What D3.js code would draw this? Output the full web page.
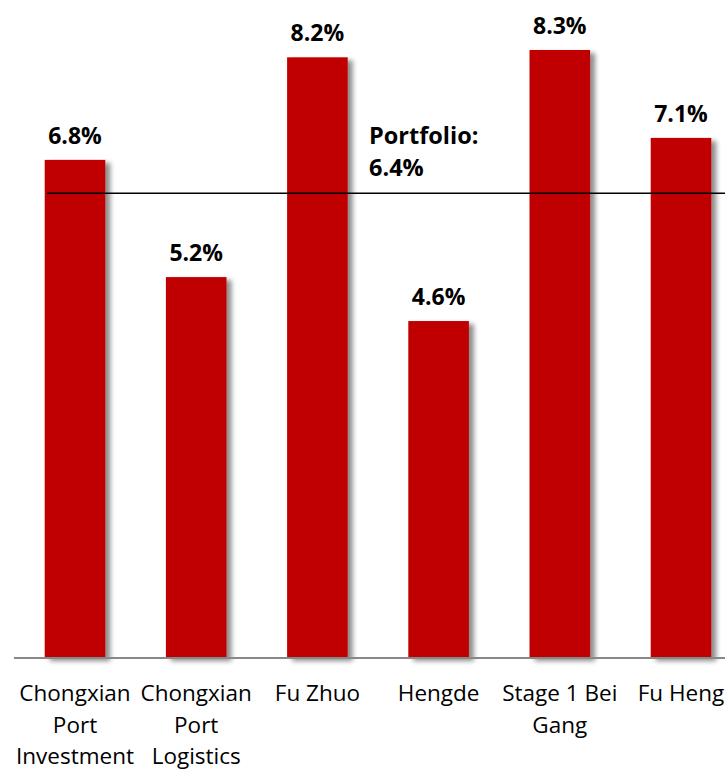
<!DOCTYPE html>
<html>
<head>
<meta charset="utf-8">
<script src="https://cdn.jsdelivr.net/npm/d3@7"></script>
<style>
  body { margin: 0; background: #fff; }
  text { font-family: "Open Sans", "Noto Sans", sans-serif; fill: #000; }
</style>
</head>
<body>
<svg id="chart" width="725" height="770"></svg>
<script>
// data
var categories = ["Chongxian Port Investment", "Chongxian Port Logistics", "Fu Zhuo", "Hengde", "Stage 1 Bei Gang", "Fu Heng"];
var labelLines = [["Chongxian", "Port", "Investment"], ["Chongxian", "Port", "Logistics"], ["Fu Zhuo"], ["Hengde"], ["Stage 1 Bei", "Gang"], ["Fu Heng"]];
var yields = [6.8, 5.2, 8.2, 4.6, 8.3, 7.1];
var portfolio = 6.4;

var svg = d3.select("#chart");
var width = +svg.attr("width");
var baseY = 658;

var x = d3.scaleBand().domain(categories).range([14.4, 741.6]).paddingInner(0.5).paddingOuter(0.25);
var y = d3.scaleLinear().domain([0, 8.3]).range([baseY, 50]);

// soft shadow to the right of each bar
var defs = svg.append("defs");
var f = defs.append("filter").attr("id", "shadow").attr("x", "-20%").attr("y", "-5%").attr("width", "150%").attr("height", "115%");
f.append("feGaussianBlur").attr("in", "SourceAlpha").attr("stdDeviation", 2.5).attr("result", "blur");
f.append("feOffset").attr("in", "blur").attr("dx", 5).attr("dy", 3).attr("result", "off");
f.append("feComponentTransfer").attr("in", "off").attr("result", "sh")
  .append("feFuncA").attr("type", "linear").attr("slope", 0.45);
var merge = f.append("feMerge");
merge.append("feMergeNode").attr("in", "sh");
merge.append("feMergeNode").attr("in", "SourceGraphic");

svg.selectAll("rect.bar").data(yields).enter().append("rect")
  .attr("class", "bar")
  .attr("x", function(d, i){ return x(categories[i]); })
  .attr("y", function(d){ return y(d); })
  .attr("width", x.bandwidth())
  .attr("height", function(d){ return baseY - y(d); })
  .attr("fill", "#c00000")
  .attr("filter", "url(#shadow)");

// baseline
svg.append("line")
  .attr("x1", 14).attr("x2", width)
  .attr("y1", baseY).attr("y2", baseY)
  .attr("stroke", "#888").attr("stroke-width", 2);

// portfolio line
svg.append("line")
  .attr("x1", 47).attr("x2", width)
  .attr("y1", y(portfolio) + 4).attr("y2", y(portfolio) + 4)
  .attr("stroke", "#000").attr("stroke-width", 1.6);

svg.append("text").attr("x", 369).attr("y", 144)
  .style("font-size", "23.5px").style("font-weight", "bold").text("Portfolio:");
svg.append("text").attr("x", 369).attr("y", 176)
  .style("font-size", "23.5px").style("font-weight", "bold").text(d3.format(".1f")(portfolio) + "%");

// value labels
svg.selectAll("text.val").data(yields).enter().append("text")
  .attr("class", "val")
  .attr("text-anchor", "middle")
  .attr("x", function(d, i){ return x(categories[i]) + x.bandwidth() / 2; })
  .attr("y", function(d){ return y(d) - 16; })
  .style("font-size", "23px").style("font-weight", "bold")
  .text(function(d){ return d3.format(".1f")(d) + "%"; });

// category labels
var cat = svg.selectAll("text.cat").data(labelLines).enter().append("text")
  .attr("class", "cat")
  .attr("text-anchor", "middle")
  .attr("transform", function(d, i){ return "translate(" + (x(categories[i]) + x.bandwidth() / 2) + ",701)"; })
  .style("font-size", "22.5px");
cat.selectAll("tspan").data(function(d){ return d; }).enter().append("tspan")
  .attr("x", 0)
  .attr("y", function(d, i){ return i * 31.5; })
  .text(function(d){ return d; });
</script>
</body>
</html>
